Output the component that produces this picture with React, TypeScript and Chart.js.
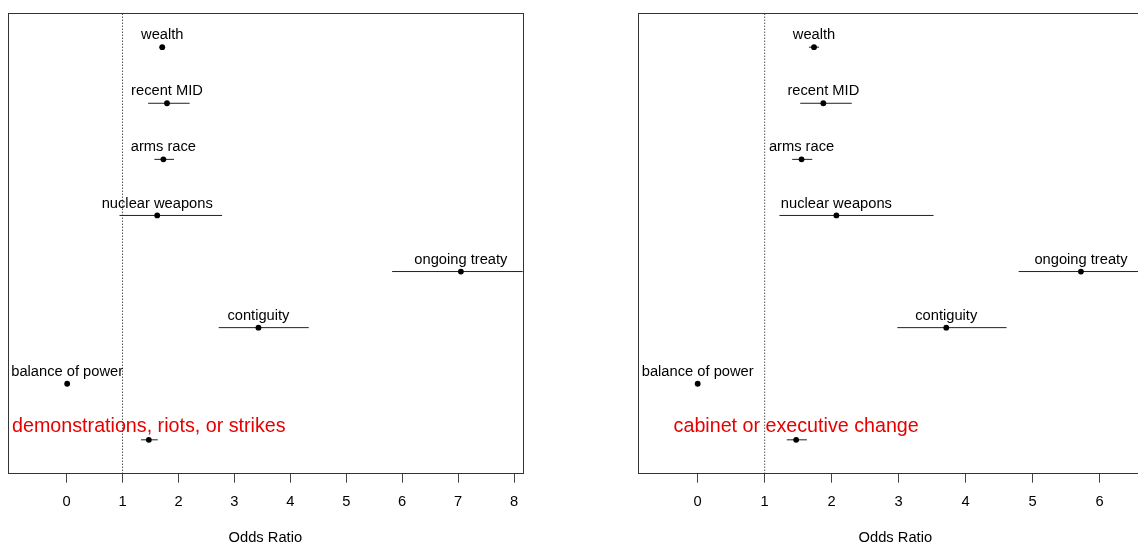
import React, { useEffect, useRef } from "react";
import { Chart, registerables } from "chart.js";

Chart.register(...registerables);

// Predictors, listed top to bottom
const predictors = [
  "wealth",
  "recent MID",
  "arms race",
  "nuclear weapons",
  "ongoing treaty",
  "contiguity",
  "balance of power",
];

// Demonstrations, riots, or strikes: odds ratios with interval bounds
const demoTitle = "demonstrations, riots, or strikes";
const demoEstimate = [1.71, 1.795, 1.73, 1.62, 7.05, 3.43, 0.01, 1.47];
const demoLower = [1.66, 1.457, 1.57, 0.946, 5.82, 2.72, 0.0, 1.33];
const demoUpper = [1.76, 2.2, 1.92, 2.78, 8.28, 4.33, 0.02, 1.63];
const demoTicks = [0, 1, 2, 3, 4, 5, 6, 7, 8];

// Cabinet or executive change: odds ratios with interval bounds
const cabinetTitle = "cabinet or executive change";
const cabinetEstimate = [1.736, 1.875, 1.55, 2.07, 5.72, 3.71, 0.0, 1.47];
const cabinetLower = [1.66, 1.53, 1.41, 1.22, 4.79, 2.98, 0.0, 1.33];
const cabinetUpper = [1.81, 2.3, 1.71, 3.52, 6.65, 4.61, 0.01, 1.63];
const cabinetTicks = [0, 1, 2, 3, 4, 5, 6];

const referenceValue = 1;
const axisTitle = "Odds Ratio";

const FONT = "'Liberation Sans', Arial, Helvetica, sans-serif";

type PanelProps = {
  title: string;
  estimate: number[];
  lower: number[];
  upper: number[];
  ticks: number[];
  xMin: number;
  xMax: number;
  left: number;
  width: number;
  padLeft: number;
  padRight: number;
};

const Y_MIN = 0.396;
const Y_MAX = 8.604;
const CANVAS_H = 547;

function Panel(props: PanelProps) {
  const ref = useRef<HTMLCanvasElement | null>(null);

  useEffect(() => {
    const canvas = ref.current;
    if (!canvas) return;
    const { title, estimate, lower, upper, ticks, xMin, xMax } = props;
    const n = estimate.length;
    const names = [...predictors, title];
    // row n at the top, row 1 at the bottom
    const rowOf = (i: number) => n - i;

    const ciSets = estimate.map((_, i) => ({
      type: "scatter" as const,
      data: [
        { x: lower[i], y: rowOf(i) },
        { x: upper[i], y: rowOf(i) },
      ],
      showLine: true,
      borderColor: "#222",
      borderWidth: 1,
      pointRadius: 0,
      order: 2,
    }));

    const labelPlugin = {
      id: "rowLabels",
      afterDatasetsDraw(chart: any) {
        const ctx = chart.ctx;
        const xs = chart.scales.x;
        const ys = chart.scales.y;
        ctx.save();
        ctx.textAlign = "center";
        ctx.textBaseline = "middle";
        names.forEach((name, i) => {
          const px = xs.getPixelForValue(estimate[i]);
          const py = ys.getPixelForValue(rowOf(i));
          if (i === n - 1) {
            ctx.font = `19.7px ${FONT}`;
            ctx.fillStyle = "#e60000";
            ctx.fillText(name, px, py - 13.5);
          } else {
            ctx.font = `14.7px ${FONT}`;
            ctx.fillStyle = "#000";
            ctx.fillText(name, px, py - 12);
          }
        });
        // frame around the plotting region
        const a = chart.chartArea;
        ctx.strokeStyle = "#333";
        ctx.lineWidth = 1;
        ctx.strokeRect(
          Math.round(a.left) + 0.5,
          Math.round(a.top) + 0.5,
          Math.round(a.right - a.left),
          Math.round(a.bottom - a.top)
        );
        ctx.restore();
      },
    };

    const chart = new Chart(canvas, {
      type: "scatter",
      data: {
        datasets: [
          {
            data: estimate.map((v, i) => ({ x: v, y: rowOf(i) })),
            pointRadius: 2.9,
            pointBackgroundColor: "#000",
            pointBorderWidth: 0,
            order: 1,
          } as any,
          ...ciSets,
          {
            data: [
              { x: referenceValue, y: Y_MIN },
              { x: referenceValue, y: Y_MAX },
            ],
            showLine: true,
            borderColor: "#000",
            borderWidth: 1,
            borderDash: [1, 2],
            pointRadius: 0,
            order: 3,
          },
        ],
      },
      options: {
        animation: false,
        responsive: false,
        events: [],
        layout: {
          padding: { left: props.padLeft, right: props.padRight, top: 13.3, bottom: 0 },
        },
        plugins: {
          legend: { display: false },
          tooltip: { enabled: false },
        },
        scales: {
          x: {
            type: "linear",
            min: xMin,
            max: xMax,
            afterBuildTicks: (scale: any) => {
              scale.ticks = ticks.map((v) => ({ value: v }));
            },
            afterFit: (scale: any) => {
              scale.height = CANVAS_H - 473.7;
            },
            border: { display: false },
            grid: {
              display: true,
              drawOnChartArea: false,
              drawTicks: true,
              tickLength: 9,
              color: "#444",
              lineWidth: 1,
            },
            ticks: {
              color: "#000",
              padding: 10.5,
              maxRotation: 0,
              autoSkip: false,
              font: { family: FONT, size: 14.7 },
              callback: (v: any) => String(v),
            },
            title: {
              display: true,
              text: axisTitle,
              color: "#000",
              padding: 0,
              font: { family: FONT, size: 14.7 },
            },
          },
          y: {
            type: "linear",
            min: Y_MIN,
            max: Y_MAX,
            display: false,
          },
        },
      },
      plugins: [labelPlugin],
    } as any);

    return () => chart.destroy();
  }, []);

  return (
    <canvas
      ref={ref}
      width={props.width}
      height={CANVAS_H}
      style={{
        position: "absolute",
        left: props.left,
        top: 0,
        width: props.width,
        height: CANVAS_H,
        display: "block",
      }}
    />
  );
}

export default function App() {
  return (
    <div
      style={{
        position: "absolute",
        left: 0,
        top: 0,
        width: 1138,
        height: 544,
        overflow: "hidden",
        background: "#fff",
      }}
    >
      <Panel
        title={demoTitle}
        estimate={demoEstimate}
        lower={demoLower}
        upper={demoUpper}
        ticks={demoTicks}
        xMin={-1.048}
        xMax={8.155}
        left={0}
        width={560}
        padLeft={8}
        padRight={37.3}
      />
      <Panel
        title={cabinetTitle}
        estimate={cabinetEstimate}
        lower={cabinetLower}
        upper={cabinetUpper}
        ticks={cabinetTicks}
        xMin={-0.891}
        xMax={6.791}
        left={600}
        width={600}
        padLeft={38}
        padRight={47.3}
      />
    </div>
  );
}
